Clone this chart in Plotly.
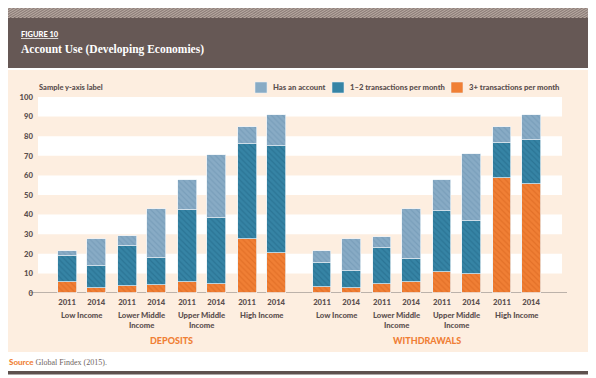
import plotly.graph_objects as go

# ---- data ----
groups = ["DEPOSITS", "WITHDRAWALS"]
income_levels = ["Low Income", "Lower Middle<br>Income", "Upper Middle<br>Income", "High Income"]
years = ["2011", "2014"]

# cumulative levels (percent), order: for each income level 2011, 2014
dep_account = [21.3, 27.7, 28.9, 42.9, 57.5, 70.6, 84.9, 91.0]
dep_one_plus = [18.7, 13.6, 24.2, 17.9, 42.2, 38.1, 75.9, 74.8]
dep_three_plus = [5.6, 2.7, 3.6, 3.9, 5.6, 4.6, 27.6, 20.3]

wd_account = [21.3, 27.7, 28.8, 42.7, 57.5, 70.8, 84.9, 91.0]
wd_one_plus = [15.3, 11.2, 23.2, 17.2, 41.7, 36.6, 76.5, 78.3]
wd_three_plus = [3.1, 2.7, 4.4, 5.5, 10.6, 9.7, 58.5, 55.8]

series_names = ["3+ transactions per month", "1–2 transactions per month", "Has an account"]
y_ticks = list(range(0, 101, 10))

# ---- derived ----
account = dep_account + wd_account
one_plus = dep_one_plus + wd_one_plus
three_plus = dep_three_plus + wd_three_plus
seg_orange = three_plus
seg_dark = [b - a for a, b in zip(three_plus, one_plus)]
seg_light = [c - b for b, c in zip(one_plus, account)]

xpos = []
for g in range(len(groups)):
    for p in range(len(income_levels)):
        for yi in range(len(years)):
            xpos.append((g * len(income_levels) + p) * 2 + 0.97 * yi + 0.5 * g)
xlabels = years * (len(groups) * len(income_levels))

# page has an 8px body margin; coordinates below are page pixels
O = 8
W, H = 588, 370
L, R, T, B = 30, 34, 89, 85
PW, PH = W - L - R, H - T - B
def X(px):
    return (px - O - L) / PW
def Y(py):
    return (H - B - (py - O)) / PH

colors = ["#f07f35", "#3684a5", "#88abc5"]
pat_fg = ["#d5621c", "#206586", "#6a92b0"]

fig = go.Figure()
segs = [seg_orange, seg_dark, seg_light]
for name, vals, c, fg in zip(series_names, segs, colors, pat_fg):
    fig.add_trace(go.Bar(
        x=xpos, y=vals, name=name, width=0.63,
        marker=dict(color=c, line=dict(color="rgba(235,242,247,0.9)", width=0.8),
                    pattern=dict(shape="\\", fgcolor=fg, size=4, solidity=0.3)),
        hoverinfo="skip", showlegend=False,
    ))

shapes = []
# header stripes
shapes.append(dict(type="rect", xref="paper", yref="paper", x0=X(8), x1=X(588), y0=Y(7), y1=Y(18),
                   fillcolor="#6d5f5b", line=dict(width=0), layer="below"))
for sx in range(-20, 590, 4):
    shapes.append(dict(type="line", xref="paper", yref="paper", x0=X(sx), y0=Y(7), x1=X(sx + 26), y1=Y(18),
                       line=dict(color="#b9aaa3", width=1.1), layer="below"))
shapes.append(dict(type="rect", xref="paper", yref="paper", x0=X(-40), x1=X(8), y0=Y(0), y1=Y(19),
                   fillcolor="white", line=dict(width=0), layer="below"))
shapes.append(dict(type="rect", xref="paper", yref="paper", x0=X(588), x1=X(640), y0=Y(0), y1=Y(19),
                   fillcolor="white", line=dict(width=0), layer="below"))
# header band
shapes.append(dict(type="rect", xref="paper", yref="paper", x0=X(8), x1=X(588), y0=Y(18), y1=Y(68),
                   fillcolor="#665855", line=dict(width=0), layer="below"))
# cream panel
shapes.append(dict(type="rect", xref="paper", yref="paper", x0=X(8), x1=X(588), y0=Y(70), y1=Y(352),
                   fillcolor="#fdeee0", line=dict(width=0), layer="below"))
# white bands
for lo in range(10, 100, 20):
    shapes.append(dict(type="rect", xref="paper", yref="y", x0=0, x1=1, y0=lo, y1=lo + 10,
                       fillcolor="white", line=dict(width=0), layer="below"))
# baseline
shapes.append(dict(type="line", xref="paper", yref="y", x0=X(30), x1=X(567), y0=0, y1=0,
                   line=dict(color="#bcb2aa", width=2), layer="below"))
# bottom rule
shapes.append(dict(type="rect", xref="paper", yref="paper", x0=X(8), x1=X(588), y0=Y(371), y1=Y(374.5),
                   fillcolor="#5e514e", line=dict(width=0)))

SANS = "Lato, 'DejaVu Sans', sans-serif"
SERIF = "'Liberation Serif', 'DejaVu Serif', serif"
GREY = "#5b4f4e"
WT = 900

annotations = [
    dict(text="<u>FIGURE 10</u>", xref="paper", yref="paper", x=X(19), y=Y(34), xanchor="left", yanchor="middle",
         showarrow=False, font=dict(family=SANS, size=7.5, color="white", weight=WT)),
    dict(text="Account Use (Developing Economies)", xref="paper", yref="paper", x=X(19), y=Y(50),
         xanchor="left", yanchor="middle", showarrow=False,
         font=dict(family=SERIF, size=11.5, color="white", weight="bold")),
    dict(text="Sample y-axis label", xref="paper", yref="paper", x=X(37), y=Y(87), xanchor="left",
         yanchor="middle", showarrow=False, font=dict(family=SANS, size=7.5, color=GREY, weight=WT)),
    dict(text="<span style='font-family:Lato, sans-serif;font-weight:900;color:#f07f35'>Source</span> Global Findex (2015).",
         xref="paper", yref="paper", x=X(7), y=Y(362), xanchor="left", yanchor="middle", showarrow=False,
         font=dict(family=SERIF, size=8, color="#6f6562")),
]
# legend (custom, to match reference spacing)
leg_sw_x = [255, 332, 451]
for name, c, sx in zip(series_names[::-1], colors[::-1], leg_sw_x):
    shapes.append(dict(type="rect", xref="paper", yref="paper", x0=X(sx), x1=X(sx + 12), y0=Y(82), y1=Y(93),
                       fillcolor=c, line=dict(color="rgba(235,242,247,0.9)", width=0.6)))
    annotations.append(dict(text=name, xref="paper", yref="paper", x=X(sx + 16), y=Y(87.5), xanchor="left",
                            yanchor="middle", showarrow=False,
                            font=dict(family=SANS, size=7.7, color=GREY, weight=WT)))

n = len(years)
for g, gname in enumerate(groups):
    gx = xpos[g * len(income_levels) * n: (g + 1) * len(income_levels) * n]
    for p, lvl in enumerate(income_levels):
        cx = (gx[p * n] + gx[p * n + n - 1]) / 2
        annotations.append(dict(text=lvl, x=cx, xref="x", yref="paper", y=Y(308), yanchor="top",
                                showarrow=False, align="center",
                                font=dict(family=SANS, size=7.7, color=GREY, weight=WT)))
    annotations.append(dict(text=gname, x=(gx[0] + gx[-1]) / 2, xref="x", yref="paper", y=Y(340),
                            yanchor="middle", showarrow=False,
                            font=dict(family=SANS, size=9, color="#f07f35", weight=WT)))

fig.update_layout(
    width=W, height=H, margin=dict(l=L, r=R, t=T, b=B),
    paper_bgcolor="white", plot_bgcolor="#fdeee0",
    barmode="stack", bargap=0,
    shapes=shapes, annotations=annotations,
    showlegend=False,
    xaxis=dict(range=[-0.97, 16.5], tickvals=xpos, ticktext=xlabels, showgrid=False, zeroline=False,
               showline=False, ticks="", ticklabelstandoff=3,
               tickfont=dict(family=SANS, size=7.7, color=GREY, weight=WT)),
    yaxis=dict(range=[0, 100], tickvals=y_ticks, showgrid=False, zeroline=False, showline=False, ticks="",
               ticklabelstandoff=4,
               tickfont=dict(family=SANS, size=7.7, color=GREY, weight=WT)),
    font=dict(family=SANS),
)

fig.write_html("out.html")
